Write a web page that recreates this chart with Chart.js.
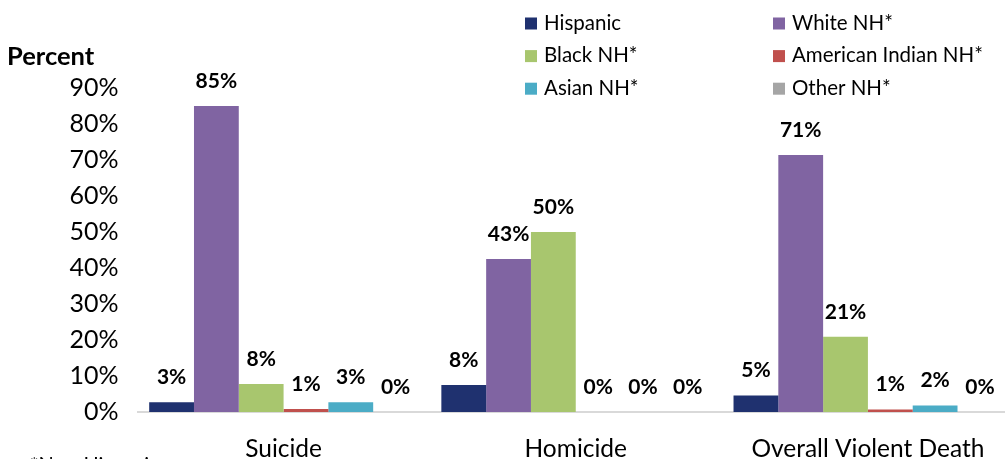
<!DOCTYPE html>
<html>
<head>
<meta charset="utf-8">
<title>Violent deaths by race/ethnicity</title>
<script src="https://cdn.jsdelivr.net/npm/chart.js@4/dist/chart.umd.min.js"></script>
<style>
  html, body { margin: 0; padding: 0; background: #fff; overflow: hidden; }
  #wrap { position: relative; width: 1014px; height: 459px; }
</style>
</head>
<body>
<div id="wrap"><canvas id="chart"></canvas></div>
<script>
const categories = ["Suicide", "Homicide", "Overall Violent Death"];
const groupNames = ["Hispanic", "White NH*", "Black NH*", "American Indian NH*", "Asian NH*", "Other NH*"];
const groupColors = ["#1F316F", "#8064A2", "#A8C66E", "#C0504D", "#4BACC6", "#A5A5A5"];

// percent of deaths, by category
const hispanic = [2.7, 7.5, 4.6];
const whiteNH = [85, 42.5, 71.4];
const blackNH = [7.8, 50, 20.9];
const amIndianNH = [0.8, 0, 0.7];
const asianNH = [2.7, 0, 1.8];
const otherNH = [0, 0, 0];

const Y_MAX = 90;
const Y_STEP = 10;

const FONT = "Lato, 'Open Sans', sans-serif";
const TEXT_COLOR = "#000";

const seriesValues = [hispanic, whiteNH, blackNH, amIndianNH, asianNH, otherNH];

// draws "Percent", the two-column legend, bar value labels and the footnote
const decorations = {
    id: "decorations",
    afterDatasetsDraw(chart) {
        const ctx = chart.ctx;
        ctx.save();
        ctx.fillStyle = TEXT_COLOR;

        // value labels
        ctx.font = `bold 21px ${FONT}`;
        ctx.textAlign = "center";
        ctx.textBaseline = "middle";
        chart.data.datasets.forEach((ds, i) => {
            const meta = chart.getDatasetMeta(i);
            meta.data.forEach((bar, j) => {
                ctx.fillText(Math.round(ds.data[j]) + "%", bar.x, bar.y - 25);
            });
        });

        // axis caption
        ctx.font = `bold 25.5px ${FONT}`;
        ctx.textAlign = "left";
        ctx.fillText("Percent", 7, 57);

        // legend, two columns
        const colX = [525, 773];
        ctx.font = `20.5px ${FONT}`;
        chart.data.datasets.forEach((ds, i) => {
            const x = colX[i % 2];
            const y = 23 + Math.floor(i / 2) * 32.6;
            ctx.fillStyle = ds.backgroundColor;
            ctx.fillRect(x, y - 5.5, 12, 12);
            ctx.fillStyle = TEXT_COLOR;
            ctx.fillText(ds.label, x + 19, y);
        });

        // footnote, mostly below the visible area
        ctx.font = `20px ${FONT}`;
        ctx.textBaseline = "alphabetic";
        ctx.fillText("*Non-Hispanic", 30, 471);

        ctx.restore();
    }
};

new Chart(document.getElementById("chart"), {
    type: "bar",
    data: {
        labels: categories,
        datasets: seriesValues.map((vals, i) => ({
            label: groupNames[i],
            data: vals,
            backgroundColor: groupColors[i],
            borderWidth: 0,
            categoryPercentage: 0.92,
            barPercentage: 1.0
        }))
    },
    options: {
        responsive: true,
        maintainAspectRatio: false,
        animation: false,
        devicePixelRatio: 1,
        layout: { padding: { top: 88, left: 0, right: 0, bottom: 0 } },
        plugins: {
            legend: { display: false },
            tooltip: { enabled: false },
            title: { display: false }
        },
        scales: {
            x: {
                grid: { display: false, drawTicks: false },
                border: { display: true, color: "#D9D9D9", width: 2 },
                ticks: {
                    color: TEXT_COLOR,
                    font: { family: FONT, size: 24.5 },
                    padding: 22,
                    maxRotation: 0
                },
                afterFit: (scale) => { scale.height = 47; }
            },
            y: {
                min: 0,
                max: Y_MAX,
                grid: { display: false, drawTicks: false },
                border: { display: false },
                ticks: {
                    stepSize: Y_STEP,
                    color: TEXT_COLOR,
                    font: { family: FONT, size: 25 },
                    padding: 19,
                    callback: (v) => v + "%"
                },
                afterFit: (scale) => { scale.width = 137.5; }
            }
        }
    },
    plugins: [decorations]
});
</script>
</body>
</html>
